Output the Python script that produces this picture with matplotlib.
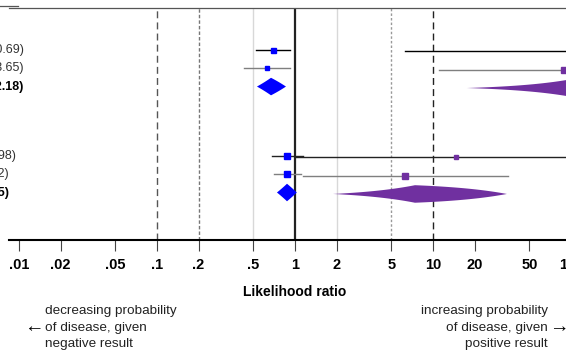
import numpy as np
import matplotlib.pyplot as plt
import matplotlib.transforms as mtransforms
from matplotlib.patches import Polygon, Rectangle
from matplotlib.lines import Line2D
from matplotlib.ticker import NullLocator

plt.rcParams['font.family'] = ['Liberation Sans', 'DejaVu Sans']

# rows (top to bottom), pooled rows get a diamond
rows = [1, 2, 3, 6.8, 7.8, 8.8]
pooled = [False, False, True, False, False, True]
row_labels = ['(0.52-0.69)', '(0.33-3.65)', '(0.53-2.18)', '(0.91-0.98)', '(0.4-2)', '(1.5)']

# negative likelihood ratio (blue)
neg_est = [0.69, 0.63, 0.67, 0.875, 0.875, 0.875]
neg_lo = [0.52, 0.43, 0.53, 0.68, 0.70, 0.74]
neg_hi = [0.92, 0.92, 0.86, 1.14, 1.10, 1.03]

# positive likelihood ratio (purple)
pos_est = [150, 89, 100, 14.7, 6.3, 7.4]
pos_lo = [6.3, 11.0, 17.6, 1.0, 1.14, 1.89]
pos_hi = [2000, 1500, 800, 1200, 34.9, 34.3]

tick_vals = [0.01, 0.02, 0.05, 0.1, 0.2, 0.5, 1, 2, 5, 10, 20, 50, 100]
tick_labels = ['.01', '.02', '.05', '.1', '.2', '.5', '1', '2', '5', '10', '20', '50', '100']

BLUE = '#0000ff'
PURPLE = '#7030a0'

W, H = 579, 356
fig = plt.figure(figsize=(W / 100, H / 100), dpi=100)


def fx(px):
    return px / W


def fy(py):
    return 1 - py / H


x_one, decade = 295, 138
ax = fig.add_axes([fx(9), fy(240), fx(579) - fx(9), fy(8) - fy(240)])
ax.set_xscale('log')
ax.set_xlim(10 ** ((9 - x_one) / decade), 10 ** ((579 - x_one) / decade))
ax.set_ylim(11.4, -1.3)

# reference lines
ax.axvline(0.1, color='#555555', lw=1, dashes=(5, 3), zorder=1)
ax.axvline(0.2, color='#777777', lw=1, dashes=(2.5, 1.5), zorder=1)
ax.axvline(0.5, color='#d8d8d8', lw=1, zorder=1)
ax.axvline(1, color='#222222', lw=1.6, zorder=1)
ax.axvline(2, color='#d8d8d8', lw=1, zorder=1)
ax.axvline(5, color='#999999', lw=1, dashes=(1.8, 1.5), zorder=1)
ax.axvline(10, color='#222222', lw=1, dashes=(5, 3), zorder=1)

line_cols = ['black', '#7f7f7f', None, '#222222', '#7f7f7f', None]
neg_ms = [3.6, 2.2, 0, 4.3, 5.0, 0]
pos_ms = [4, 4.3, 0, 3.0, 5.0, 0]
half = 0.48


def diamond(lo, est, hi, y, color):
    xl = np.linspace(lo, est, 40)
    xr = np.linspace(est, hi, 40)
    hl = (xl - lo) / (est - lo)
    hr = (hi - xr) / (hi - est)
    xs = np.concatenate([xl, xr, xr[::-1], xl[::-1]])
    ys = np.concatenate([y - half * hl, y - half * hr, y + half * hr[::-1], y + half * hl[::-1]])
    ax.add_patch(Polygon(np.column_stack([xs, ys]), closed=True, facecolor=color,
                         edgecolor='none', zorder=4))


for i, y in enumerate(rows):
    yp = y + 0.08
    if pooled[i]:
        diamond(neg_lo[i], neg_est[i], neg_hi[i], y, BLUE)
        diamond(pos_lo[i], pos_est[i], pos_hi[i], yp, PURPLE)
    else:
        ax.plot([neg_lo[i], neg_hi[i]], [y, y], color=line_cols[i], lw=1, zorder=3)
        ax.plot(neg_est[i], y, marker='s', ms=neg_ms[i], color=BLUE, zorder=4)
        ax.plot([pos_lo[i], pos_hi[i]], [yp, yp], color=line_cols[i], lw=1, zorder=3)
        ax.plot(pos_est[i], yp, marker='s', ms=pos_ms[i], color=PURPLE, zorder=4)

for s in ['left', 'right']:
    ax.spines[s].set_visible(False)
ax.spines['top'].set_color('#555555')
ax.spines['top'].set_linewidth(0.9)
ax.spines['bottom'].set_color('black')
ax.spines['bottom'].set_linewidth(1.5)

ax.set_xticks(tick_vals)
ax.set_xticklabels(tick_labels, fontweight='bold', fontsize=10.5)
ax.xaxis.set_minor_locator(NullLocator())
ax.tick_params(axis='x', direction='out', length=8, width=0.8, color='#444444', pad=5)
ax.set_yticks([])

# row labels (cut off at the left edge)
trans = mtransforms.blended_transform_factory(fig.transFigure, ax.transData)
label_end = [24, 24, 24, 16, 9, 9]
for i, y in enumerate(rows):
    fig.text(fx(label_end[i]), y, row_labels[i], transform=trans, ha='right', va='center',
             fontsize=9, color='black' if pooled[i] else '#333333',
             fontweight='bold' if pooled[i] else 'normal')

fig.text(fx(295), fy(292), 'Likelihood ratio', ha='center', va='center',
         fontsize=10, fontweight='bold')
fig.text(fx(45), fy(327.5), 'decreasing probability\nof disease, given\nnegative result',
         ha='left', va='center', fontsize=9.7, color='#222222', linespacing=1.5)
fig.text(fx(548), fy(327.5), 'increasing probability\nof disease, given\npositive result',
         ha='right', va='center', multialignment='right', fontsize=9.7, color='#222222',
         linespacing=1.5)
fig.text(fx(34), fy(328), '\u2190', ha='center', va='center', fontsize=14)
fig.text(fx(559), fy(328), '\u2192', ha='center', va='center', fontsize=14)

fig.add_artist(Line2D([0, fx(18)], [fy(6), fy(6)], color='#555555', lw=0.9))
fig.add_artist(Rectangle((fx(566), 0), 1 - fx(566), 1, transform=fig.transFigure,
                         facecolor='white', edgecolor='none', zorder=10))

fig.savefig('out.png', dpi=100)
